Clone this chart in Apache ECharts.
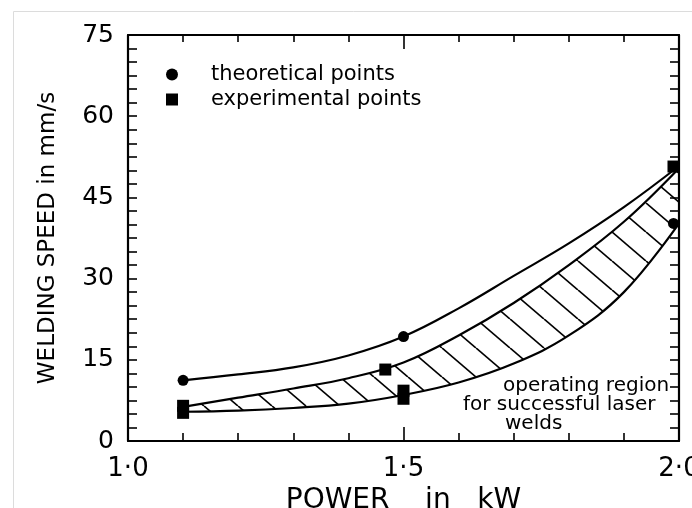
<!DOCTYPE html>
<html>
<head>
<meta charset="utf-8">
<script src="https://cdn.jsdelivr.net/npm/echarts@6/dist/echarts.min.js"></script>
<style>
html,body{margin:0;padding:0;background:#fff;}
#chart{width:692px;height:508px;}
</style>
</head>
<body>
<div id="chart"></div>
<script>
// ---- data ----
const powerSamples      = [1.1, 1.2, 1.3, 1.4, 1.5, 1.6, 1.7, 1.8, 1.9, 2.0];
const theoreticalCurve  = [11.2, 12.3, 13.6, 15.8, 19.3, 24.5, 30.5, 36.5, 43.2, 50.8];
const regionUpper       = [6.3, 8.0, 9.7, 11.6, 14.5, 19.5, 25.5, 32.5, 40.5, 50.4];
const regionLower       = [5.4, 5.6, 6.1, 6.9, 8.5, 10.8, 14.3, 19.5, 27.5, 40.2];

const theoreticalX = [1.1, 1.5, 1.99];
const theoreticalY = [11.2, 19.3, 40.2];
const experimentalX = [1.1, 1.1, 1.467, 1.5, 1.5, 1.99];
const experimentalY = [6.5, 5.2, 13.2, 9.3, 7.8, 50.7];

const xTickValues = [1.0, 1.5, 2.0];
const xTickLabels = ['1\u00b70', '1\u00b75', '2\u00b70'];
const yTickLabels = ['0', '15', '30', '45', '60', '75'];

const legendNames = ['theoretical points', 'experimental points'];
const yAxisTitle = 'WELDING SPEED in mm/s';
const xAxisTitle = 'POWER    in   kW';
const noteLines = ['operating region', 'for successful laser', 'welds'];

// ---- build ----
const FONT = 'DejaVu Sans';
const INK = '#000';
const zip = (xs, ys) => xs.map((x, i) => [x, ys[i]]);

// hatch pattern for the operating region
function makeHatch() {
  const w = 34, h = 29;
  const c = document.createElement('canvas');
  c.width = w; c.height = h;
  const g = c.getContext('2d');
  g.fillStyle = '#fff';
  g.fillRect(0, 0, w, h);
  g.strokeStyle = '#000';
  g.lineWidth = 1.7;
  for (let k = -1; k <= 1; k++) {
    g.beginPath();
    g.moveTo(k * w, 0);
    g.lineTo(k * w + w, h);
    g.stroke();
  }
  return c;
}

const chart = echarts.init(document.getElementById('chart'), null, {renderer: 'canvas'});

const axisLineStyle = {color: INK, width: 2.2};
const tickStyle = {color: INK, width: 1.6};

const option = {
  animation: false,
  backgroundColor: '#fff',
  grid: {left: 128, right: 13, top: 35, bottom: 67, containLabel: false, outerBoundsMode: 'none'},
  legend: {
    data: legendNames,
    orient: 'vertical',
    left: 161,
    top: 59,
    itemWidth: 12,
    itemHeight: 12,
    itemGap: 4,
    textStyle: {fontFamily: FONT, fontSize: 21, lineHeight: 20, color: INK, padding: [0, 0, 0, 28]},
    selectedMode: false
  },
  xAxis: [
    {
      type: 'value', min: 1, max: 2, interval: 0.5, position: 'bottom', z: 10,
      axisLine: {show: true, onZero: false, lineStyle: axisLineStyle},
      axisTick: {show: true, inside: true, length: 14, lineStyle: tickStyle},
      minorTick: {show: true, splitNumber: 5, length: 8, lineStyle: tickStyle},
      splitLine: {show: false},
      axisLabel: {
        fontFamily: FONT, fontSize: 26, color: INK, margin: 15,
        formatter: v => { const i = xTickValues.findIndex(t => Math.abs(t - v) < 1e-6); return i >= 0 ? xTickLabels[i] : ''; }
      },
      name: xAxisTitle, nameLocation: 'middle', nameGap: 37,
      nameTextStyle: {fontFamily: FONT, fontSize: 28, color: INK}
    },
    {
      type: 'value', min: 1, max: 2, interval: 0.5, position: 'top', z: 10,
      axisLine: {show: true, onZero: false, lineStyle: axisLineStyle},
      axisTick: {show: true, inside: true, length: 14, lineStyle: tickStyle},
      minorTick: {show: true, splitNumber: 5, length: 7, lineStyle: tickStyle},
      splitLine: {show: false},
      axisLabel: {show: false}
    }
  ],
  yAxis: [
    {
      type: 'value', min: 0, max: 75, interval: 15, position: 'left', z: 10,
      axisLine: {show: true, onZero: false, lineStyle: axisLineStyle},
      axisTick: {show: true, inside: true, length: 9, lineStyle: tickStyle},
      minorTick: {show: true, splitNumber: 6, length: 9, lineStyle: tickStyle},
      splitLine: {show: false},
      axisLabel: {
        fontFamily: FONT, fontSize: 25, color: INK, margin: 14,
        formatter: v => yTickLabels[Math.round(v / 15)]
      },
      name: yAxisTitle, nameLocation: 'middle', nameRotate: 90, nameGap: 68,
      nameTextStyle: {fontFamily: FONT, fontSize: 23, color: INK}
    },
    {
      type: 'value', min: 0, max: 75, interval: 15, position: 'right', z: 10,
      axisLine: {show: true, onZero: false, lineStyle: axisLineStyle},
      axisTick: {show: true, inside: true, length: 9, lineStyle: tickStyle},
      minorTick: {show: true, splitNumber: 6, length: 9, lineStyle: tickStyle},
      splitLine: {show: false},
      axisLabel: {show: false}
    }
  ],
  graphic: [
    {type: 'rect', left: 11, top: 9, z: -10, silent: true,
     shape: {x: 0, y: 0, width: 720, height: 540},
     style: {fill: 'none', stroke: '#dcdcdc', lineWidth: 1}},
    {type: 'text', x: 503, y: 386, z: 50, style: {text: noteLines[0], font: '20px "DejaVu Sans"', fill: INK, verticalAlign: 'middle'}},
    {type: 'text', x: 463, y: 405, z: 50, style: {text: noteLines[1], font: '20px "DejaVu Sans"', fill: INK, verticalAlign: 'middle'}},
    {type: 'text', x: 505, y: 424, z: 50, style: {text: noteLines[2], font: '20px "DejaVu Sans"', fill: INK, verticalAlign: 'middle'}}
  ],
  series: [
    {
      // upper edge of the operating region, hatched down to the axis
      name: 'region upper', type: 'line', smooth: 0.4, showSymbol: false,
      data: zip(powerSamples, regionUpper),
      lineStyle: {color: INK, width: 2.2},
      areaStyle: {color: {image: makeHatch(), repeat: 'repeat'}, opacity: 1},
      z: 2
    },
    {
      // lower edge: white area below it masks the hatch outside the region
      name: 'region lower', type: 'line', smooth: 0.4, showSymbol: false,
      data: zip(powerSamples, regionLower),
      lineStyle: {color: INK, width: 2.2},
      areaStyle: {color: '#fff', opacity: 1},
      z: 3
    },
    {
      name: 'theoretical curve', type: 'line', smooth: 0.4, showSymbol: false,
      data: zip(powerSamples, theoreticalCurve),
      lineStyle: {color: INK, width: 2.2}, z: 4
    },
    {
      name: legendNames[0], type: 'scatter', symbol: 'circle', symbolSize: 11,
      data: zip(theoreticalX, theoreticalY),
      itemStyle: {color: INK, opacity: 1}, z: 6
    },
    {
      name: legendNames[1], type: 'scatter', symbol: 'rect', symbolSize: 12,
      data: zip(experimentalX, experimentalY),
      itemStyle: {color: INK, opacity: 1}, z: 6
    }
  ]
};
chart.setOption(option);
</script>
</body>
</html>
